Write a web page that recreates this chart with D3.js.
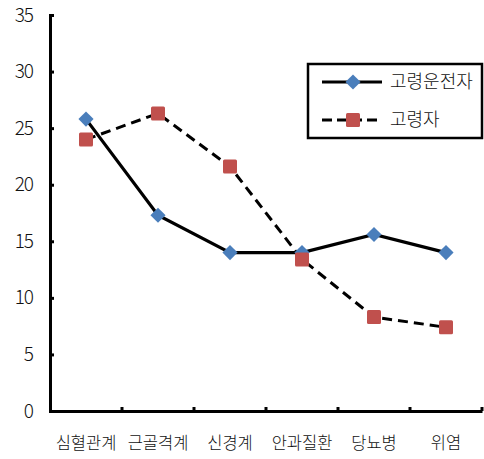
<!DOCTYPE html>
<html>
<head>
<meta charset="utf-8">
<script src="https://cdn.jsdelivr.net/npm/d3@7"></script>
<style>
  body { margin: 0; background: #fff; }
  text { font-family: "Noto Sans CJK KR", sans-serif; }
</style>
</head>
<body>
<div id="chart"></div>
<script>
const categories = ["심혈관계", "근골격계", "신경계", "안과질환", "당뇨병", "위염"];
const driverValues = [25.8, 17.3, 14.0, 14.0, 15.6, 14.0];
const elderValues = [24.0, 26.3, 21.6, 13.4, 8.3, 7.4];
const seriesNames = ["고령운전자", "고령자"];
const yTicks = [0, 5, 10, 15, 20, 25, 30, 35];

const width = 484, height = 459;
const margin = {top: 15, right: 2, bottom: 48, left: 50};

const svg = d3.select("#chart").append("svg")
    .attr("width", width)
    .attr("height", height);

const x = d3.scaleBand()
    .domain(categories)
    .range([margin.left, width - margin.right]);

const y = d3.scaleLinear()
    .domain([0, 35])
    .range([height - margin.bottom, margin.top]);

// y axis
const yAxis = svg.append("g")
    .attr("transform", `translate(${margin.left},0)`)
    .call(d3.axisLeft(y).tickValues(yTicks).tickSize(-4).tickPadding(17));
yAxis.select(".domain").attr("stroke-width", 3);
yAxis.selectAll(".tick line").attr("stroke-width", 3);
yAxis.selectAll("text")
    .style("font-size", "19px")
    .style("font-weight", 300)
    .style("letter-spacing", "-1px")
    .attr("fill", "#111");

// x axis
const xAxis = svg.append("g")
    .attr("transform", `translate(0,${height - margin.bottom})`)
    .call(d3.axisBottom(x).tickSize(0).tickPadding(26));
xAxis.select(".domain").attr("stroke-width", 3);
xAxis.selectAll("text")
    .style("font-size", "16.5px")
    .style("font-weight", 300)
    .attr("fill", "#111");

// category boundary ticks
const bounds = categories.map(c => x(c)).concat([x(categories[categories.length - 1]) + x.bandwidth()]);
svg.append("g").selectAll("line")
    .data(bounds.slice(1))
    .enter().append("line")
    .attr("x1", d => d).attr("x2", d => d)
    .attr("y1", height - margin.bottom)
    .attr("y2", height - margin.bottom - 4)
    .attr("stroke", "#000")
    .attr("stroke-width", 3);

const cx = c => x(c) + x.bandwidth() / 2;

const line = d3.line()
    .x((d, i) => cx(categories[i]))
    .y(d => y(d));

// lines
svg.append("path")
    .datum(elderValues)
    .attr("d", line)
    .attr("fill", "none")
    .attr("stroke", "#000")
    .attr("stroke-width", 3)
    .attr("stroke-dasharray", "10,6");

svg.append("path")
    .datum(driverValues)
    .attr("d", line)
    .attr("fill", "none")
    .attr("stroke", "#000")
    .attr("stroke-width", 3.2);

// markers
const diamond = d3.symbol().type(d3.symbolSquare).size(115);

svg.append("g").selectAll("path")
    .data(driverValues)
    .enter().append("path")
    .attr("d", diamond)
    .attr("transform", (d, i) => `translate(${cx(categories[i])},${y(d)}) rotate(45)`)
    .attr("fill", "#4a7ebb");

svg.append("g").selectAll("rect")
    .data(elderValues)
    .enter().append("rect")
    .attr("x", (d, i) => cx(categories[i]) - 7)
    .attr("y", d => y(d) - 7)
    .attr("width", 14)
    .attr("height", 14)
    .attr("rx", 1.5)
    .attr("fill", "#c0504d");

// legend
const legend = svg.append("g");
legend.append("rect")
    .attr("x", 308).attr("y", 64)
    .attr("width", 174).attr("height", 74)
    .attr("fill", "#fff")
    .attr("stroke", "#000")
    .attr("stroke-width", 2.5);

const legendRows = [
  {name: seriesNames[0], y: 82, dash: null},
  {name: seriesNames[1], y: 120, dash: "10,5"}
];

legendRows.forEach((r, i) => {
  legend.append("line")
      .attr("x1", 322).attr("x2", 382)
      .attr("y1", r.y).attr("y2", r.y)
      .attr("stroke", "#000")
      .attr("stroke-width", 3)
      .attr("stroke-dasharray", r.dash);
  if (i === 0) {
    legend.append("path")
        .attr("d", diamond)
        .attr("transform", `translate(353,${r.y}) rotate(45)`)
        .attr("fill", "#4a7ebb");
  } else {
    legend.append("rect")
        .attr("x", 346).attr("y", r.y - 7)
        .attr("width", 14).attr("height", 14)
        .attr("rx", 1.5)
        .attr("fill", "#c0504d");
  }
  legend.append("text")
      .attr("x", 390)
      .attr("y", r.y)
      .attr("dy", "0.35em")
      .style("font-size", "18px")
      .style("font-weight", 300)
      .attr("fill", "#111")
      .text(r.name);
});
</script>
</body>
</html>
